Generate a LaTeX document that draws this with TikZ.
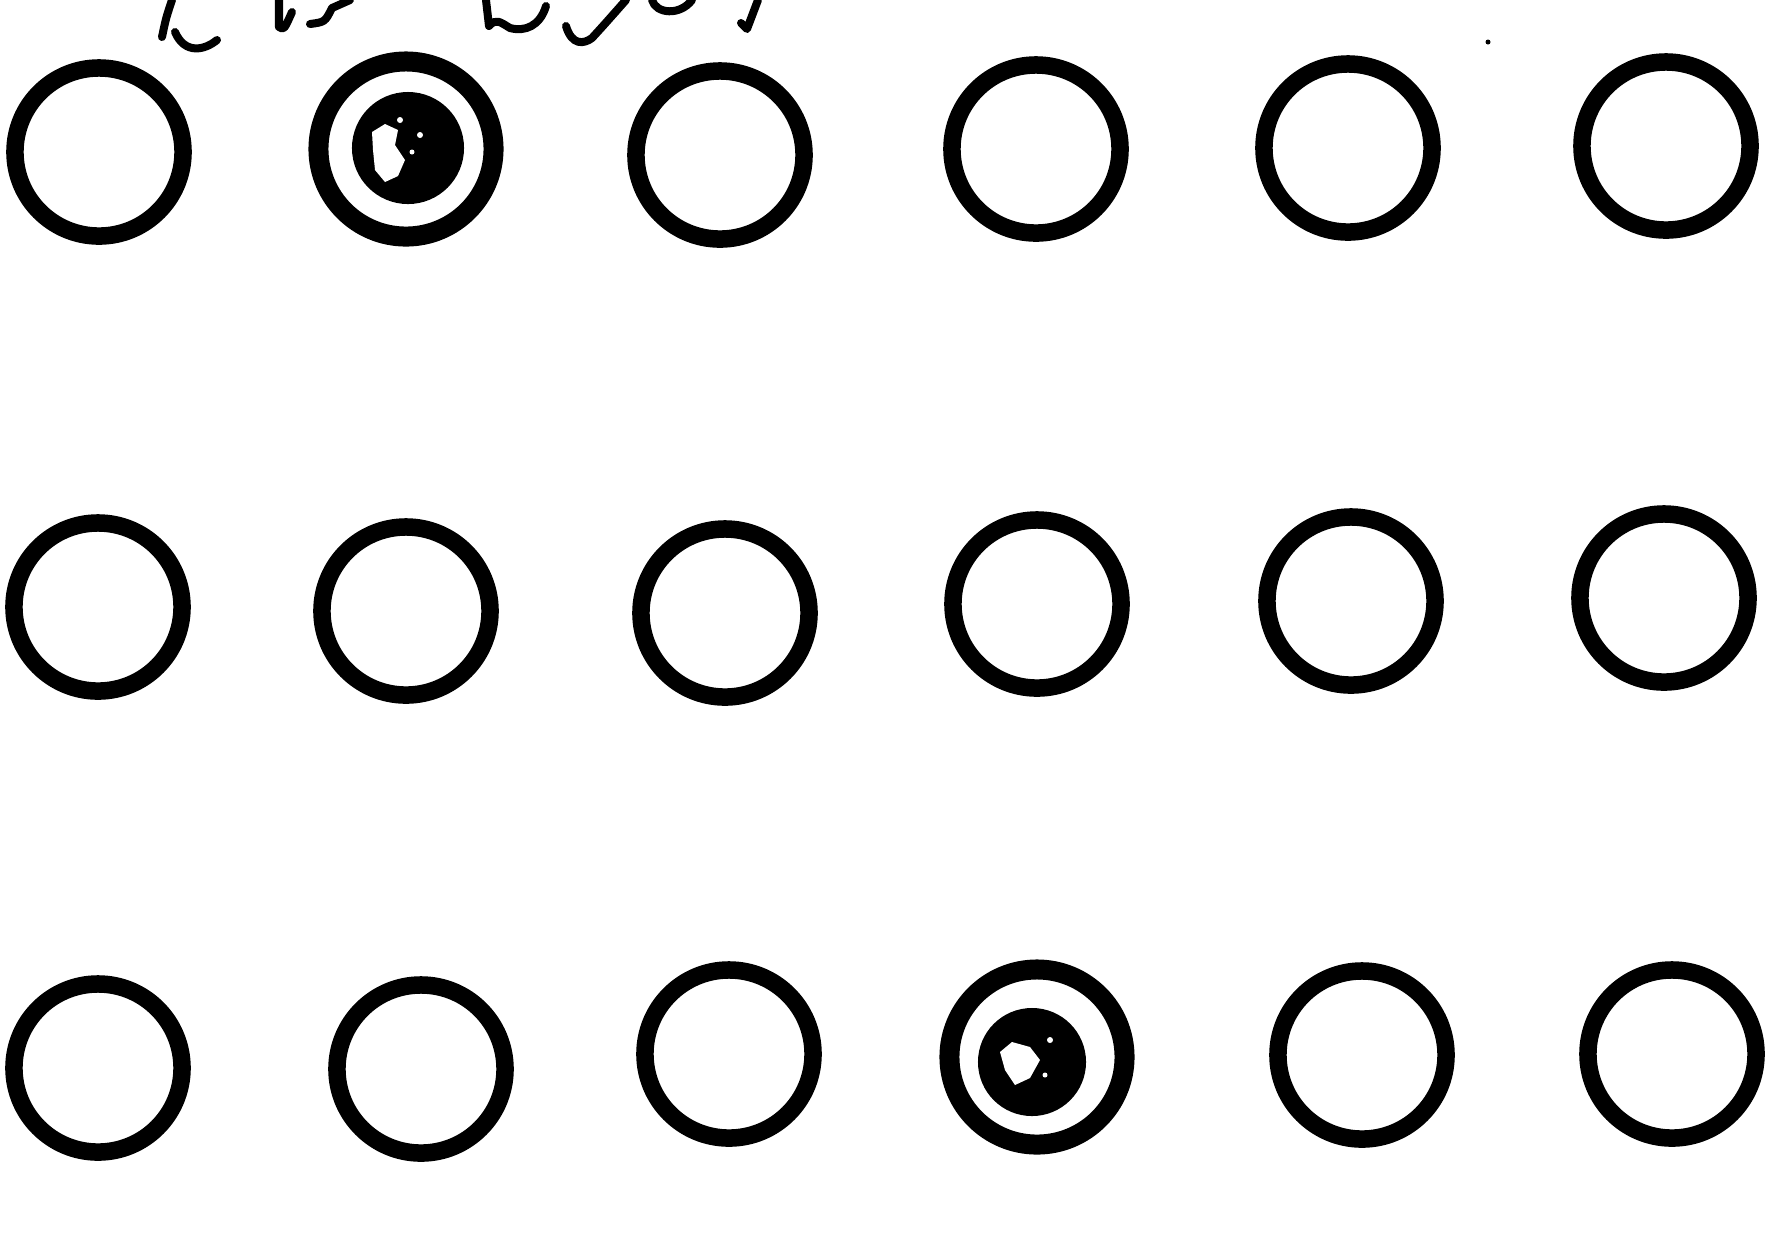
\documentclass[tikz,border=0pt]{standalone}
\begin{document}
\begin{tikzpicture}[x=0.01cm,y=-0.01cm,
  ring/.style={circle,draw=black,line width=0.175cm,minimum size=1.68cm,inner sep=0pt},
  bigring/.style={ring,line width=0.2cm,minimum size=1.75cm},
  core/.style={circle,fill=black,minimum size=1.12cm,inner sep=0pt},
  scrawl/.style={line width=0.08cm,line cap=round,line join=round}]
\useasboundingbox (0,0) rectangle (1787,1259);
% row 1
\node[ring] (a1) at (99,152) {};
\node[bigring] (a2) at (406,149) {};
\node[ring] (a3) at (720,155) {};
\node[ring] (a4) at (1036,149) {};
\node[ring] (a5) at (1348,148) {};
\node[ring] (a6) at (1666,146) {};
% row 2
\node[ring] (b1) at (98,607) {};
\node[ring] (b2) at (406,611) {};
\node[ring] (b3) at (725,613) {};
\node[ring] (b4) at (1037,604) {};
\node[ring] (b5) at (1351,601) {};
\node[ring] (b6) at (1664,598) {};
% row 3
\node[ring] (c1) at (98,1068) {};
\node[ring] (c2) at (421,1069) {};
\node[ring] (c3) at (729,1054) {};
\node[bigring] (c4) at (1037,1057) {};
\node[ring] (c5) at (1362,1055) {};
\node[ring] (c6) at (1672,1054) {};
% filled cores
\node[core] (k1) at (408,148) {};
\node[core,minimum size=1.08cm] (k2) at (1032,1062) {};
\fill[white] (372,132) -- (385,124) -- (398,130) -- (395,145) -- (405,160) -- (398,176) -- (385,182) -- (375,170) -- (373,150) -- cycle;
\fill[white] (400,120) circle (3) (420,135) circle (3) (412,152) circle (2.5);
\fill[white] (1000,1052) -- (1012,1042) -- (1030,1047) -- (1040,1060) -- (1030,1078) -- (1015,1085) -- (1005,1070) -- cycle;
\fill[white] (1050,1040) circle (3) (1045,1075) circle (2.5);
% cut-off handwriting at top
\draw[scrawl] (172,0) .. controls (166,18) .. (162,37);
\draw[scrawl] (175,32) .. controls (185,55) and (205,50) .. (217,40);
\draw[scrawl] (279,0) -- (279,27) .. controls (284,30) .. (292,12);
\draw[scrawl] (310,24) .. controls (325,22) .. (332,8) -- (350,0);
\draw[scrawl] (486,0) -- (489,26) .. controls (496,18) and (500,22) .. (510,28) .. controls (525,32) and (540,26) .. (546,6);
\draw[scrawl] (566,26) .. controls (572,46) and (584,44) .. (592,38) .. controls (603,26) .. (626,0);
\draw[scrawl] (652,0) .. controls (656,14) and (680,16) .. (692,0);
\draw[scrawl] (741,23) -- (747,29) -- (758,0);
\fill (1488,42) circle (2.5);
\end{tikzpicture}
\end{document}
